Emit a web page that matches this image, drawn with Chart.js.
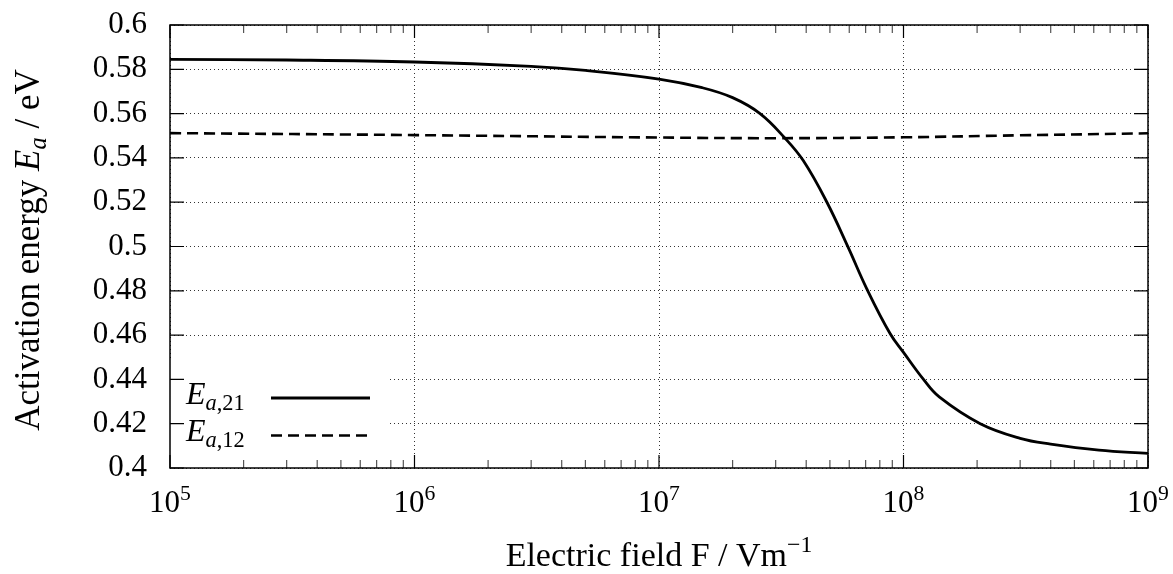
<!DOCTYPE html>
<html>
<head>
<meta charset="utf-8">
<script src="https://cdn.jsdelivr.net/npm/chart.js@4.4.0/dist/chart.umd.min.js"></script>
<style>
  html, body { margin: 0; padding: 0; background: #fff; }
</style>
</head>
<body>
<canvas id="myChart" width="1173" height="574"></canvas>
<script>
// curve E_a,21 : field (V/m) and activation energy (eV)
var fieldE21 = [1e5, 3e5, 1e6, 3e6, 5e6, 1e7, 1.5e7, 2e7, 2.59e7, 3.27e7, 3.89e7, 4.85e7, 5.94e7, 7.07e7, 8.81e7, 1e8, 1.205e8, 1.4e8, 2.06e8, 3e8, 4e8, 6.3e8, 1e9];
var energyE21 = [0.5845, 0.5842, 0.5833, 0.5813, 0.5795, 0.5756, 0.5717, 0.5672, 0.5600, 0.5490, 0.5388, 0.5202, 0.4996, 0.4810, 0.4607, 0.4522, 0.4401, 0.4321, 0.4200, 0.4134, 0.4108, 0.4081, 0.4066];

// curve E_a,12
var fieldE12 = [1e5, 1e6, 1e7, 3e7, 1e8, 3e8, 1e9];
var energyE12 = [0.5512, 0.5503, 0.5492, 0.5489, 0.5493, 0.5502, 0.5511];

// axis ticks
var decadeTicks = [1e5, 1e6, 1e7, 1e8, 1e9];
var decadeExponents = ['5', '6', '7', '8', '9'];
var energyTicks = [0.4, 0.42, 0.44, 0.46, 0.48, 0.5, 0.52, 0.54, 0.56, 0.58, 0.6];

// legend text: E with subscript
var legendSubs = [[['a', true], [',21', false]], [['a', true], [',12', false]]];

var serif = '"Liberation Serif", "DejaVu Serif", serif';

function toPoints(xs, ys) {
    return xs.map(function (x, i) { return { x: x, y: ys[i] }; });
}

// parts: {t: text, it: italic, sub: true, sup: true}
function richWidth(ctx, parts, size) {
    var w = 0;
    parts.forEach(function (p) {
        var s = (p.sub || p.sup) ? size * 0.7 : size;
        ctx.font = (p.it ? 'italic ' : '') + s + 'px ' + serif;
        w += ctx.measureText(p.t).width;
    });
    return w;
}

function drawRich(ctx, parts, x, y, size, align) {
    var w = richWidth(ctx, parts, size);
    var cx = align === 'center' ? x - w / 2 : x;
    ctx.textAlign = 'left';
    ctx.textBaseline = 'alphabetic';
    parts.forEach(function (p) {
        var s = (p.sub || p.sup) ? size * 0.7 : size;
        var dy = p.sub ? size * 0.2 : (p.sup ? -size * 0.4 : 0);
        ctx.font = (p.it ? 'italic ' : '') + s + 'px ' + serif;
        ctx.fillText(p.t, cx, y + dy);
        cx += ctx.measureText(p.t).width;
    });
}

var gnuplotFrame = {
    id: 'gnuplotFrame',
    afterDraw: function (chart) {
        var ctx = chart.ctx;
        var a = chart.chartArea;
        var xs = chart.scales.x;
        var ys = chart.scales.y;
        ctx.save();

        // opaque key box hides the grid
        ctx.fillStyle = '#fff';
        ctx.fillRect(a.left, a.bottom - 108, 218, 108);

        // inward tick marks
        ctx.strokeStyle = '#000';
        ctx.lineWidth = 1.2;
        ctx.beginPath();
        energyTicks.forEach(function (v) {
            var py = ys.getPixelForValue(v);
            ctx.moveTo(a.left, py); ctx.lineTo(a.left + 14, py);
            ctx.moveTo(a.right, py); ctx.lineTo(a.right - 14, py);
        });
        decadeTicks.forEach(function (v) {
            var px = xs.getPixelForValue(v);
            ctx.moveTo(px, a.bottom); ctx.lineTo(px, a.bottom - 13);
            ctx.moveTo(px, a.top); ctx.lineTo(px, a.top + 13);
        });
        ctx.stroke();

        ctx.strokeStyle = '#555';
        ctx.lineWidth = 1.2;
        ctx.beginPath();
        decadeTicks.slice(0, -1).forEach(function (v) {
            for (var k = 2; k <= 9; k++) {
                var px = xs.getPixelForValue(v * k);
                ctx.moveTo(px, a.bottom); ctx.lineTo(px, a.bottom - 8);
                ctx.moveTo(px, a.top); ctx.lineTo(px, a.top + 8);
            }
        });
        ctx.stroke();

        // frame
        ctx.strokeStyle = '#000';
        ctx.lineWidth = 1.5;
        ctx.strokeRect(a.left, a.top, a.right - a.left, a.bottom - a.top);

        ctx.fillStyle = '#000';

        // x tick labels 10^n
        decadeTicks.forEach(function (v, i) {
            var px = xs.getPixelForValue(v);
            drawRich(ctx, [{ t: '10' }, { t: decadeExponents[i], sup: true }], px, 512, 31, 'center');
        });

        // axis titles
        drawRich(ctx, [{ t: 'Electric field F / Vm' }, { t: '\u22121', sup: true }],
            (a.left + a.right) / 2, 566, 34, 'center');

        ctx.save();
        ctx.translate(39, 250);
        ctx.rotate(-Math.PI / 2);
        drawRich(ctx, [{ t: 'Activation energy ' }, { t: 'E', it: true }, { t: 'a', it: true, sub: true }, { t: ' / eV' }],
            0, 0, 35, 'center');
        ctx.restore();

        // key
        chart.data.datasets.forEach(function (ds, i) {
            var ly = a.bottom - 70 + i * 37.5;
            var parts = [{ t: 'E', it: true }];
            legendSubs[i].forEach(function (s) { parts.push({ t: s[0], it: s[1], sub: true }); });
            ctx.fillStyle = '#000';
            drawRich(ctx, parts, a.left + 16, ly + 5.5, 32, 'left');
            ctx.strokeStyle = ds.borderColor;
            ctx.lineWidth = ds.borderWidth;
            ctx.setLineDash(ds.borderDash || []);
            ctx.beginPath();
            ctx.moveTo(a.left + 101, ly);
            ctx.lineTo(a.left + 200, ly);
            ctx.stroke();
        });

        ctx.restore();
    }
};

var ctx = document.getElementById('myChart').getContext('2d');
var myChart = new Chart(ctx, {
    type: 'line',
    data: {
        datasets: [{
            label: 'E_a,21',
            data: toPoints(fieldE21, energyE21),
            borderColor: '#000',
            borderWidth: 2.8,
            pointRadius: 0,
            tension: 0.4,
            fill: false
        }, {
            label: 'E_a,12',
            data: toPoints(fieldE12, energyE12),
            borderColor: '#000',
            borderWidth: 2.6,
            borderDash: [11, 6],
            pointRadius: 0,
            tension: 0.4,
            fill: false
        }]
    },
    options: {
        responsive: false,
        animation: false,
        layout: { padding: { top: 25, right: 25, left: 0, bottom: 0 } },
        plugins: {
            legend: { display: false },
            tooltip: { enabled: false }
        },
        scales: {
            x: {
                type: 'logarithmic',
                min: 1e5,
                max: 1e9,
                afterBuildTicks: function (s) {
                    s.ticks = decadeTicks.map(function (v) { return { value: v }; });
                },
                afterFit: function (s) {
                    s.height = 106;
                    s.paddingLeft = 0; s.paddingRight = 0;
                },
                ticks: { display: false },
                grid: { color: '#333', lineWidth: 1, drawTicks: false },
                border: { display: false, dash: [1, 3] }
            },
            y: {
                min: 0.4,
                max: 0.6,
                afterBuildTicks: function (s) {
                    s.ticks = energyTicks.map(function (v) { return { value: v }; });
                },
                afterFit: function (s) {
                    s.width = 170;
                    s.paddingTop = 0; s.paddingBottom = 0;
                },
                ticks: {
                    color: '#000',
                    padding: 23,
                    font: { family: serif, size: 31 },
                    callback: function (v) { return String(+v.toFixed(2)); }
                },
                grid: { color: '#333', lineWidth: 1, drawTicks: false },
                border: { display: false, dash: [1, 3] }
            }
        }
    },
    plugins: [gnuplotFrame]
});
</script>
</body>
</html>
